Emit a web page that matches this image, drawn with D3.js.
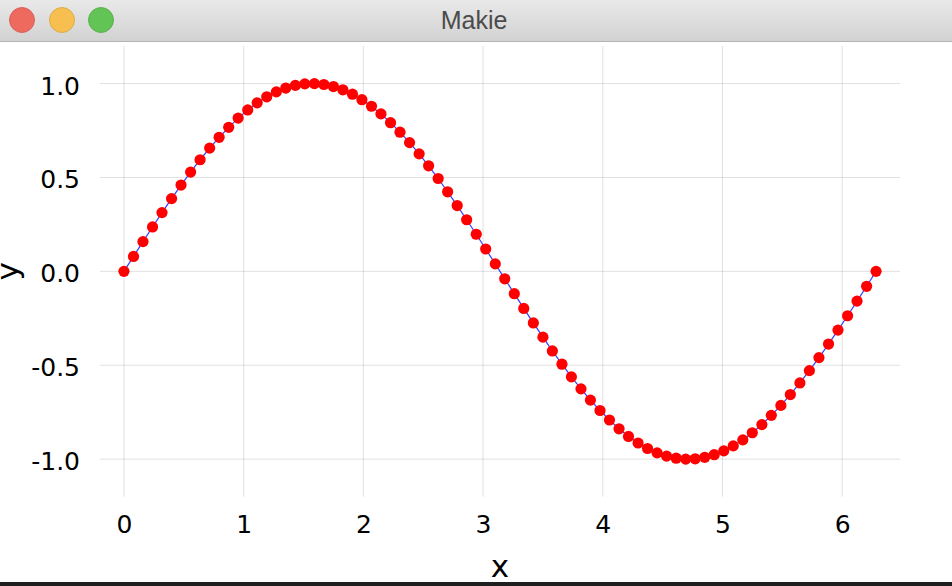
<!DOCTYPE html>
<html>
<head>
<meta charset="utf-8">
<script src="https://cdn.jsdelivr.net/npm/d3@7/dist/d3.min.js"></script>
<style>
html,body{margin:0;padding:0;background:#fff;overflow:hidden;}
svg{display:block;}
</style>
</head>
<body>
<svg id="chart" width="952" height="586"></svg>
<script>
// ---- data ----
const windowTitle = "Makie";
const xLabel = "x";
const yLabel = "y";
const xValues = [0,0.080,0.159,0.239,0.318,0.398,0.477,0.557,0.636,0.716,0.795,0.875,0.954,1.034,1.113,1.193,1.273,1.352,1.432,1.511,
  1.591,1.670,1.750,1.829,1.909,1.988,2.068,2.147,2.227,2.306,2.386,2.466,2.545,2.625,2.704,2.784,2.863,2.943,3.022,3.102,
  3.181,3.261,3.340,3.420,3.500,3.579,3.659,3.738,3.818,3.897,3.977,4.056,4.136,4.215,4.295,4.374,4.454,4.533,4.613,4.693,
  4.772,4.852,4.931,5.011,5.090,5.170,5.249,5.329,5.408,5.488,5.567,5.647,5.726,5.806,5.886,5.965,6.045,6.124,6.204,6.283];
const yValues = [0,0.0795,0.1584,0.2363,0.3128,0.3873,0.4594,0.5285,0.5943,0.6562,0.7139,0.7669,0.8160,0.8594,0.8972,0.9295,0.9558,0.9762,0.9903,0.9982,
  0.9998,0.9951,0.9840,0.9668,0.9434,0.9141,0.8791,0.8384,0.7916,0.7410,0.6856,0.6257,0.5619,0.4943,0.4237,0.3503,0.2748,0.1975,0.1190,0.0398,
  -0.0398,-0.1190,-0.1975,-0.2748,-0.3503,-0.4237,-0.4943,-0.5619,-0.6257,-0.6856,-0.7410,-0.7916,-0.8384,-0.8791,-0.9141,-0.9434,-0.9668,-0.9840,-0.9951,-0.9998,
  -0.9982,-0.9903,-0.9762,-0.9558,-0.9295,-0.8972,-0.8594,-0.8160,-0.7669,-0.7139,-0.6562,-0.5943,-0.5285,-0.4594,-0.3873,-0.3128,-0.2363,-0.1584,-0.0795,0];
const xTicks = [0,1,2,3,4,5,6];
const yTicks = [-1.0,-0.5,0.0,0.5,1.0];
const yTickLabels = ["-1.0","-0.5","0.0","0.5","1.0"];

const points = xValues.map((x,i)=>({x, y:yValues[i]}));

// ---- layout ----
const svg = d3.select("#chart");
const W = 952, H = 586;
const plot = {left:100, right:900, top:46, bottom:496.7};

const x = d3.scaleLinear().domain([-0.2, 6.483]).range([plot.left, plot.right]);
const y = d3.scaleLinear().domain([-1.2, 1.2]).range([plot.bottom, plot.top]);

// window title bar
const defs = svg.append("defs");
const grad = defs.append("linearGradient").attr("id","tb").attr("x1",0).attr("y1",0).attr("x2",0).attr("y2",1);
grad.append("stop").attr("offset","0%").attr("stop-color","#e9e9e9");
grad.append("stop").attr("offset","100%").attr("stop-color","#d2d2d2");
svg.append("rect").attr("x",0).attr("y",0).attr("width",W).attr("height",41).attr("fill","url(#tb)");
svg.append("line").attr("x1",0).attr("x2",W).attr("y1",41.5).attr("y2",41.5).attr("stroke","#b3b3b3").attr("stroke-width",1);
const lights = [{cx:22,fill:"#ee6a5f",stroke:"#d4544b"},{cx:62,fill:"#f6bf4f",stroke:"#d9a23a"},{cx:101,fill:"#61c454",stroke:"#4ea83f"}];
svg.selectAll("circle.light").data(lights).enter().append("circle").attr("class","light")
  .attr("cx",d=>d.cx).attr("cy",20).attr("r",12.5).attr("fill",d=>d.fill).attr("stroke",d=>d.stroke).attr("stroke-width",0.8);
svg.append("text").attr("x",474).attr("y",29).attr("text-anchor","middle")
  .attr("font-family","Liberation Sans, Arial, sans-serif").attr("font-size",25).attr("fill","#4b4b4b").text(windowTitle);

// bottom dark edge
svg.append("rect").attr("x",0).attr("y",582).attr("width",W).attr("height",4).attr("fill","#1f1f1f");

// grid
const g = svg.append("g");
g.selectAll("line.vg").data(xTicks).enter().append("line").attr("class","vg")
  .attr("x1",d=>x(d)).attr("x2",d=>x(d)).attr("y1",plot.top).attr("y2",plot.bottom)
  .attr("stroke","#000").attr("stroke-opacity",0.12).attr("stroke-width",1);
g.selectAll("line.hg").data(yTicks).enter().append("line").attr("class","hg")
  .attr("x1",plot.left).attr("x2",plot.right).attr("y1",d=>y(d)).attr("y2",d=>y(d))
  .attr("stroke","#000").attr("stroke-opacity",0.12).attr("stroke-width",1);

// tick labels via axes (no domain/ticks lines)
const font = "DejaVu Sans, Verdana, sans-serif";
const xAxis = d3.axisBottom(x).tickValues(xTicks).tickSize(0).tickPadding(0).tickFormat(d3.format("d"));
const xg = svg.append("g").attr("transform",`translate(0,${plot.bottom})`).call(xAxis);
xg.select(".domain").remove();
xg.selectAll("text").attr("font-family",font).attr("font-size",25).attr("fill","#000")
  .attr("dy",null).attr("y",36.5);

const yAxis = d3.axisLeft(y).tickValues(yTicks).tickSize(0).tickPadding(0).tickFormat((d,i)=>yTickLabels[i]);
const yg = svg.append("g").attr("transform",`translate(80,0)`).call(yAxis);
yg.select(".domain").remove();
yg.selectAll("text").attr("font-family",font).attr("font-size",25).attr("fill","#000")
  .attr("dy",null).attr("x",0).attr("y",10.5);

// axis labels
svg.append("text").attr("x",(plot.left+plot.right)/2).attr("y",577).attr("text-anchor","middle")
  .attr("font-family",font).attr("font-size",31).attr("fill","#000").text(xLabel);
svg.append("text").attr("transform",`translate(18,${(plot.top+plot.bottom)/2}) rotate(-90)`).attr("text-anchor","middle")
  .attr("font-family",font).attr("font-size",31).attr("fill","#000").text(yLabel);

// line
const line = d3.line().x(d=>x(d.x)).y(d=>y(d.y));
svg.append("path").datum(points).attr("d",line).attr("fill","none").attr("stroke","#3a3aff").attr("stroke-width",1.2);

// markers
svg.selectAll("circle.pt").data(points).enter().append("circle").attr("class","pt")
  .attr("cx",d=>x(d.x)).attr("cy",d=>y(d.y)).attr("r",5.6).attr("fill","#ff0000");
</script>
</body>
</html>
